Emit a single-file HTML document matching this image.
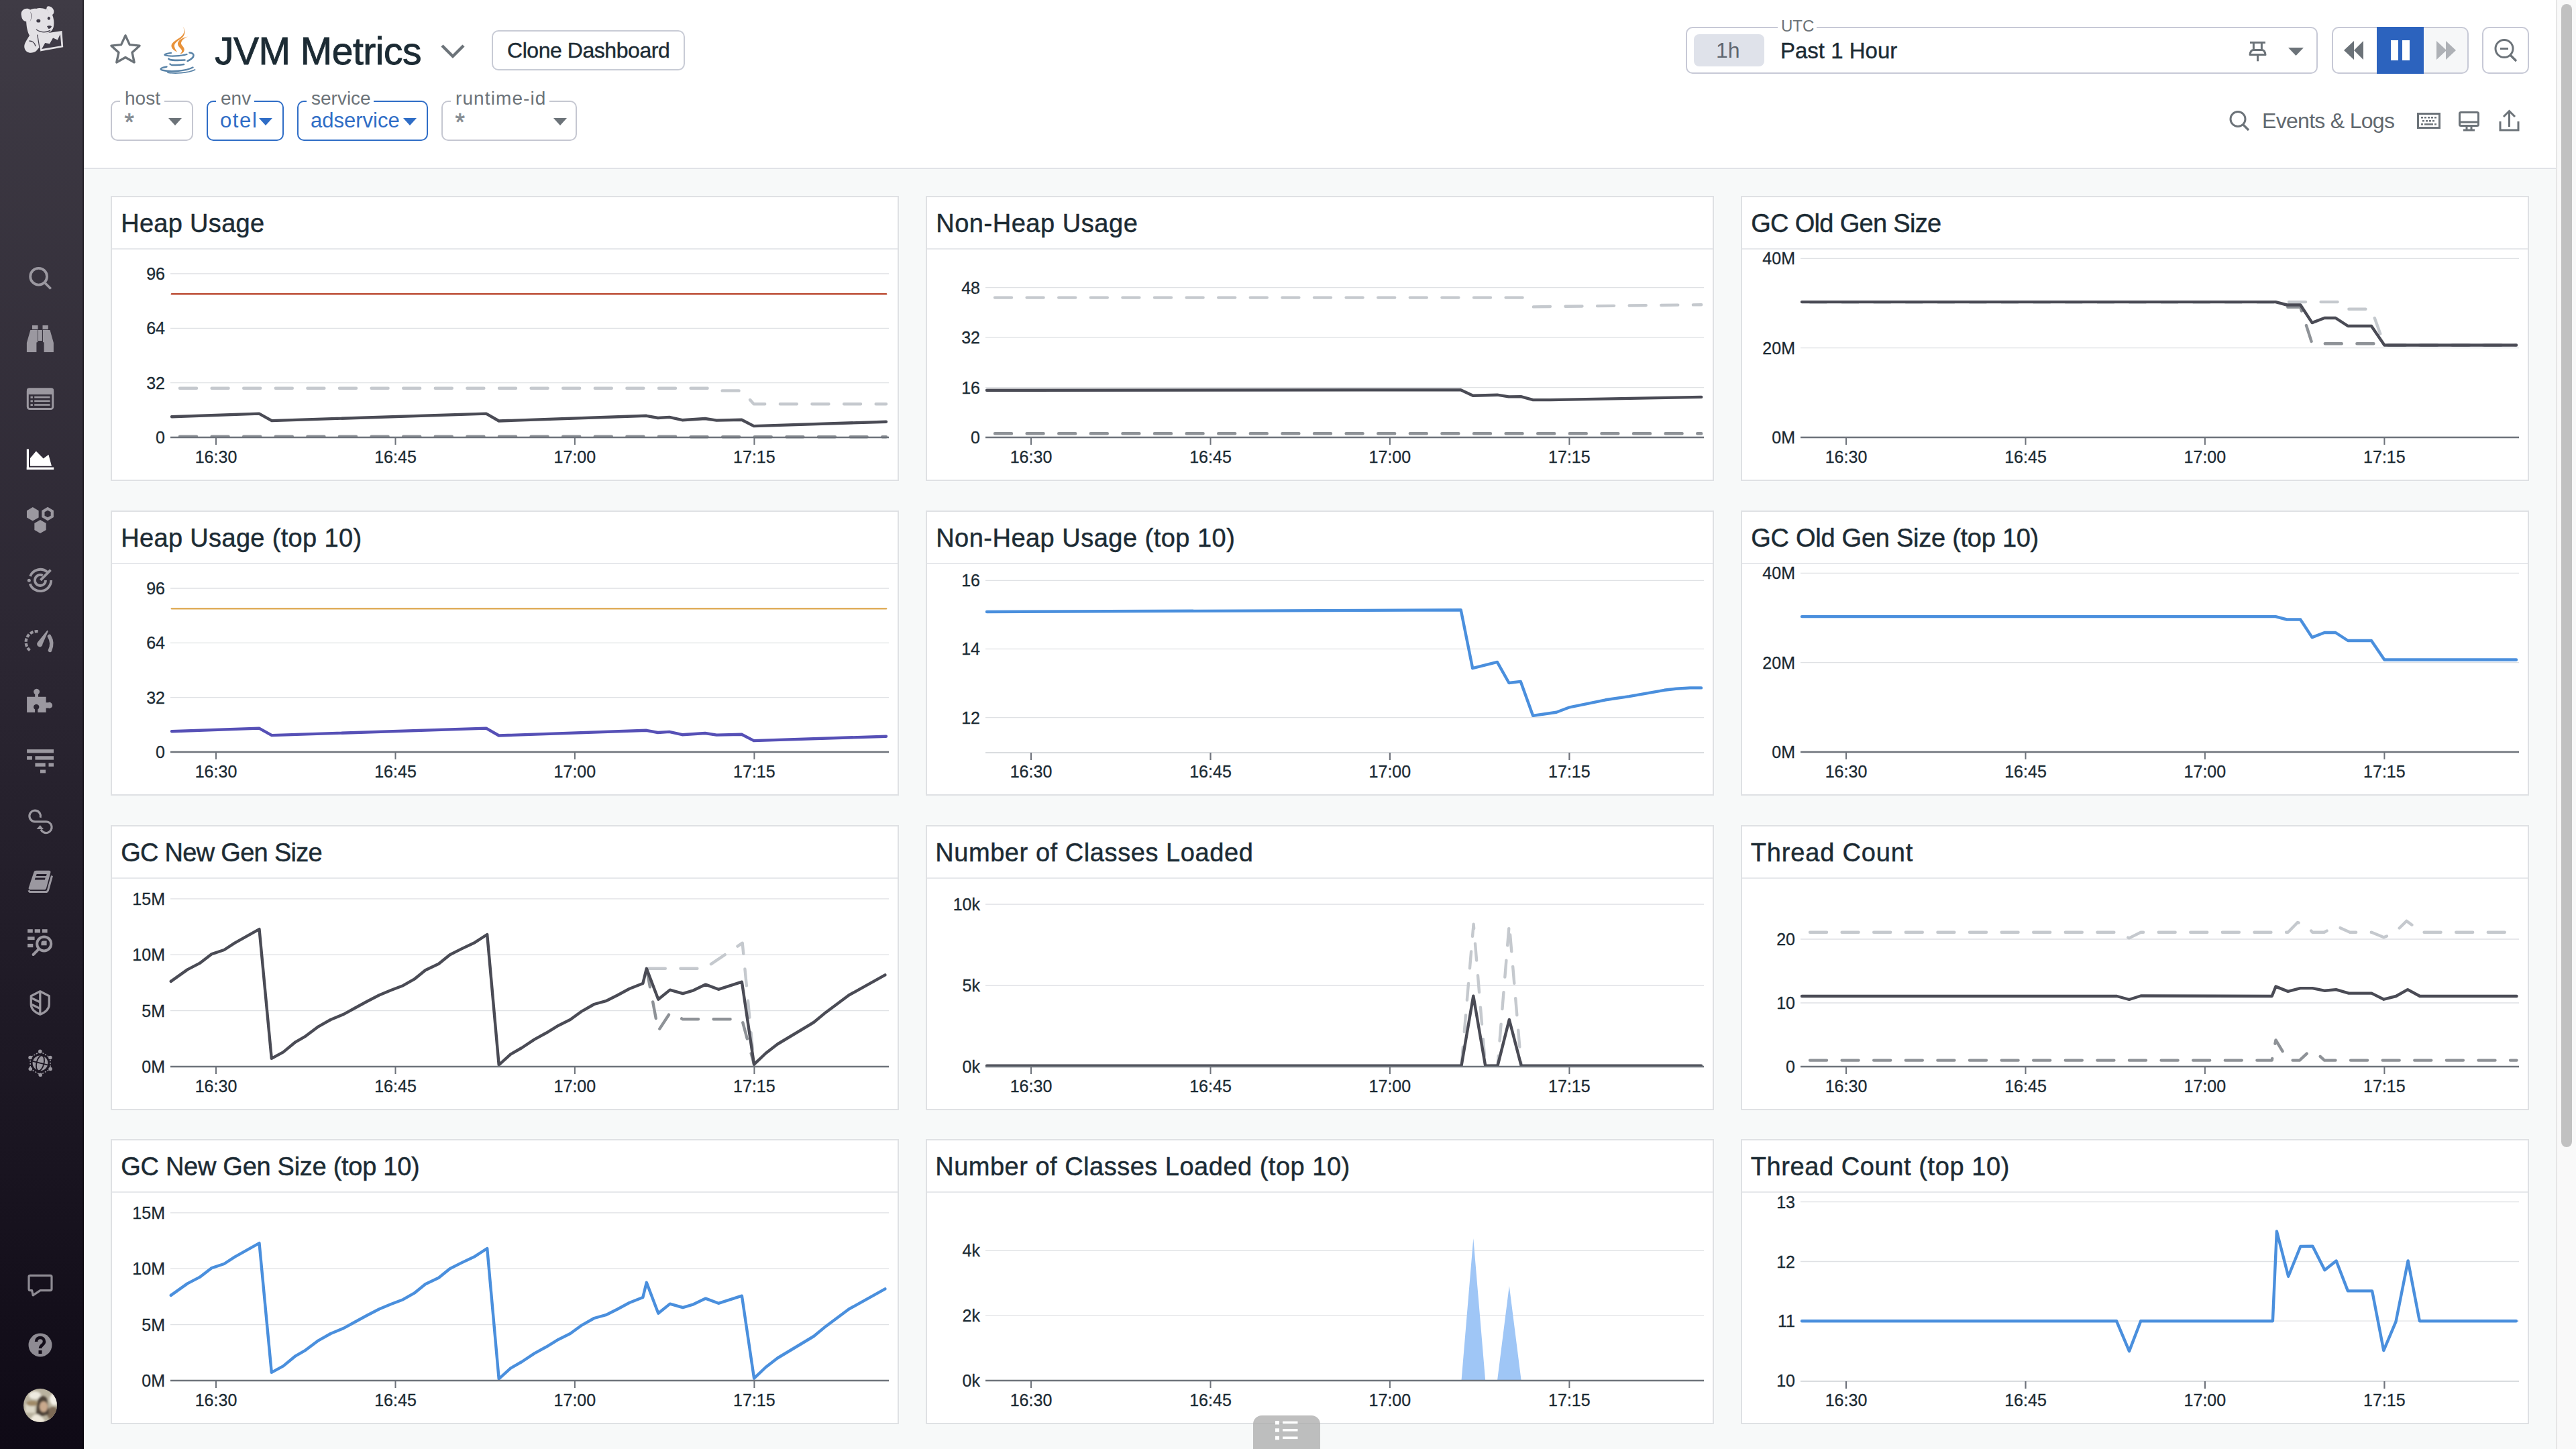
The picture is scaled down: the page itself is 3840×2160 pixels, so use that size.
<!DOCTYPE html><html><head><meta charset="utf-8"><style>
*{margin:0;padding:0;box-sizing:border-box}
html,body{width:3840px;height:2160px;overflow:hidden;background:#f7f9f9;font-family:"Liberation Sans", sans-serif}
#sb{position:absolute;left:0;top:0;width:125px;height:2160px;background:linear-gradient(#3f3b45,#2b2632 46%,#0f0a16);box-shadow:inset -2px 0 0 rgba(0,0,0,0.35), 2px 0 0 #fff}
#hd{position:absolute;left:125px;top:0;width:3685px;height:252px;background:#fff;border-bottom:2px solid #e1e3e7}
#scr{position:absolute;left:3810px;top:0;width:30px;height:2160px;background:#f9f9f9;border-left:2px solid #e6e6e6}
#thumb{position:absolute;left:6px;top:6px;width:16px;height:1704px;background:#c1c1c1;border-radius:8px}
.w{position:absolute;width:1175px;height:425px;background:#fff;border:2px solid #dfe1e4}
.wt{position:absolute;left:14px;top:12px;font-size:38px;color:#1c2b34;white-space:nowrap;line-height:54px;-webkit-text-stroke:0.45px #1c2b34}
.ws{position:absolute;left:0;top:76px;width:1171px;height:2px;background:#e6e8eb}
.cs{position:absolute;left:-2px;top:-2px}
.yl{font-size:25px;fill:#1c2b34;stroke:#1c2b34;stroke-width:0.3px;text-anchor:end;font-family:"Liberation Sans", sans-serif}
.xl{font-size:25px;fill:#1c2b34;stroke:#1c2b34;stroke-width:0.3px;text-anchor:middle;font-family:"Liberation Sans", sans-serif}
.abs{position:absolute;white-space:nowrap}
</style></head><body><div id="sb"><svg style="position:absolute;left:20px;top:0px" width="90" height="90" viewBox="0 0 90 90">
<g fill="#e3e1e5">
<path d="M12 24 C10 16 16 12 22 13 C26 14 28 18 27 23 C26 29 23 32 19 32 C15 32 12.5 28 12 24 Z"/>
<path d="M19 26 C19 17 26 12 34 13 C38 11 44 12 49 14 L50 10 C53 8 58 10 60 15 C61 18 60 21 58 22 C60 27 61 33 60 39 C59 45 55 49 48 50 L38 52 L39 70 L34 76 C30 79 24 80 20 77 C16 74 15 68 18 63 C20 59 22 56 24 53 C20 46 19 36 19 26 Z"/>
<path d="M35.7 51.6 L72.4 46 L74.2 70.2 L39.8 76.4 Z"/>
</g>
<g fill="#3f3b47">
<path d="M25 17 C28 21 28 28 24 33 C27 29 27 22 25 17 Z"/>
<ellipse cx="37.3" cy="31" rx="3" ry="2.6"/>
<ellipse cx="52.8" cy="27.3" rx="2" ry="2.5"/>
<path d="M50 39.2 C52 38 56.5 38 57 39.5 C56 42 54 43 52.5 43 Z"/>
<path d="M49.5 12 L53.5 20.5 C52 17 50.5 14.5 49.5 12 Z"/>
<path d="M42.2 73 L47.2 64 L54 65.2 L59 56.5 L65.8 59.6 L69.8 51 L71.4 68.3 Z"/>
</g>
<g fill="none" stroke="#3f3b47">
<path d="M34 44 C40 48 48 49 55 45.5" stroke-width="1.4"/>
<path d="M23.5 61 C28 61 32 64 33 69" stroke-width="1.4"/>
<path d="M35.7 51.6 L39.8 76.4" stroke-width="1.2"/>
</g></svg><svg style="position:absolute;left:35px;top:390px" width="50" height="50" viewBox="0 0 50 50" fill="#9b98a0" stroke="#9b98a0"><circle cx="22.6" cy="22.2" r="12.4" fill="none" stroke-width="3.8"/><line x1="31.5" y1="31.2" x2="40.8" y2="40.6" stroke-width="3.6"/></svg><svg style="position:absolute;left:35px;top:480px" width="50" height="50" viewBox="0 0 50 50" fill="#9b98a0" stroke="#9b98a0"><g stroke="none"><rect x="13" y="5" width="8.5" height="6"/><rect x="28.5" y="5" width="8.3" height="6"/><path d="M10.3 12 H21.1 V30 L19.4 30.6 V44.9 H4.9 V31 Z"/><rect x="21.9" y="12" width="6" height="16"/><path d="M29 12 H39.5 L44.9 31 V44.9 H30.6 V30.6 L29 30 Z"/></g></svg><svg style="position:absolute;left:35px;top:570px" width="50" height="50" viewBox="0 0 50 50" fill="#9b98a0" stroke="#9b98a0"><rect x="6.3" y="9.9" width="37.4" height="29.6" rx="3" fill="none" stroke-width="3"/><rect x="5" y="8.6" width="40" height="9.5" rx="3" stroke="none"/><g stroke="none"><rect x="10.5" y="20.8" width="3.4" height="2.8"/><rect x="16.2" y="20.8" width="23.3" height="2.6"/><rect x="10.5" y="26.5" width="3.4" height="2.8"/><rect x="16.2" y="26.5" width="23.3" height="2.6"/><rect x="10.5" y="32.2" width="3.4" height="2.8"/><rect x="16.2" y="32.2" width="23.3" height="2.6"/></g></svg><svg style="position:absolute;left:35px;top:660px" width="50" height="50" viewBox="0 0 50 50" fill="#ffffff" stroke="#ffffff"><g stroke="none"><rect x="4.8" y="9.5" width="3.2" height="30.5"/><rect x="4.8" y="36.6" width="40.4" height="3.4"/><path d="M10 22.9 L18.8 12.6 L29.7 23.4 L37.4 17.8 L42 34.8 H10 Z"/></g></svg><svg style="position:absolute;left:35px;top:750px" width="50" height="50" viewBox="0 0 50 50" fill="#9b98a0" stroke="#9b98a0"><g stroke="none"><path d="M13.80 6.10 L22.63 11.20 L22.63 21.40 L13.80 26.50 L4.97 21.40 L4.97 11.20 Z"/><path d="M36.10 5.80 L44.93 10.90 L44.93 21.10 L36.10 26.20 L27.27 21.10 L27.27 10.90 Z M36.10 10.70 L40.69 13.35 L40.69 18.65 L36.10 21.30 L31.51 18.65 L31.51 13.35 Z" fill-rule="evenodd"/><path d="M25.00 25.00 L33.66 30.00 L33.66 40.00 L25.00 45.00 L16.34 40.00 L16.34 30.00 Z"/></g></svg><svg style="position:absolute;left:35px;top:840px" width="50" height="50" viewBox="0 0 50 50" fill="#9b98a0" stroke="#9b98a0"><g fill="none" stroke-width="3.8"><path d="M9.98 18.93 A16.2 16.2 0 0 1 35.41 12.59"/><path d="M9.73 30.41 A16.2 16.2 0 0 0 41.2 25"/><path d="M33 25 A8 8 0 1 1 28.63 17.87"/><path d="M25.4 24.8 L40.5 9.7"/></g><circle cx="8.3" cy="25.2" r="2.5" stroke="none"/></svg><svg style="position:absolute;left:35px;top:930px" width="50" height="50" viewBox="0 0 50 50" fill="#9b98a0" stroke="#9b98a0"><path d="M9.5 39.5 A16 16 0 0 1 23 11.5" fill="none" stroke-width="4.2" stroke-dasharray="5 2.2"/><path d="M35.5 9.5 L36.8 11 L28.5 30 A4.2 4.2 0 1 1 21 27.5 Z" stroke="none"/><path d="M38.5 18.5 C42.5 25 42.5 33 39.5 39.5" fill="none" stroke-width="5.5" stroke-linecap="round"/></svg><svg style="position:absolute;left:35px;top:1020px" width="50" height="50" viewBox="0 0 50 50" fill="#9b98a0" stroke="#9b98a0"><g stroke="none"><path d="M5.1 18.8 H17.2 V15 A4.5 4.5 0 1 1 22 15 V18.8 H33.6 V27.2 H37 A4.5 4.5 0 1 1 37 35.6 H33.6 V42 H21.3 V37.5 A4.2 4.2 0 1 0 17.1 37.5 V42 H5.1 Z"/></g></svg><svg style="position:absolute;left:35px;top:1110px" width="50" height="50" viewBox="0 0 50 50" fill="#9b98a0" stroke="#9b98a0"><g stroke="none"><rect x="5.1" y="7.1" width="39.9" height="5.3"/><rect x="5.1" y="17.2" width="7.8" height="5.4"/><rect x="17.4" y="17.2" width="27.6" height="5.4"/><rect x="17.4" y="27.4" width="15.3" height="5.3"/><rect x="37.5" y="27.4" width="7.5" height="5.3"/><rect x="25" y="37.5" width="8" height="4.9"/></g></svg><svg style="position:absolute;left:35px;top:1200px" width="50" height="50" viewBox="0 0 50 50" fill="#9b98a0" stroke="#9b98a0"><path d="M25.15 18.8 A8.3 8.3 0 1 0 16.85 24.8 L33.1 24.8 A8.4 8.4 0 1 1 26 36.5" fill="none" stroke-width="3.2"/><path d="M19.5 36 L24.8 30 L30 36 Z" stroke="none"/></svg><svg style="position:absolute;left:35px;top:1290px" width="50" height="50" viewBox="0 0 50 50" fill="#9b98a0" stroke="#9b98a0"><path d="M19 7.7 H38 C40 7.7 41 9 40.3 11 L34 34 C33.5 35.5 32.5 36.3 31 36.3 H10 C8 36.3 7.2 35 7.8 33 L15.5 10 C16 8.5 17.3 7.7 19 7.7 Z" stroke="none"/><path d="M42.5 15.5 L36.5 37 C36 38.6 34.8 39.6 33 39.6 H11 C9.5 39.6 8.3 38.7 8 37.2" fill="none" stroke-width="3"/><g fill="#221c29" stroke="none"><path d="M19.6 13 H34.6 L33.9 16 H18.8 Z"/><path d="M17.6 18.4 H32.6 L31.9 21.4 H16.8 Z"/></g></svg><svg style="position:absolute;left:35px;top:1380px" width="50" height="50" viewBox="0 0 50 50" fill="#9b98a0" stroke="#9b98a0"><g stroke="none"><rect x="6.1" y="5.2" width="7.7" height="5.3"/><rect x="16.7" y="5.2" width="8.3" height="5.3"/><rect x="27.9" y="5.2" width="7.7" height="5.3"/><rect x="6.1" y="16.3" width="10.5" height="4.8"/><rect x="6.1" y="26.9" width="8.2" height="5.3"/><path d="M26.4 29.3 V26 A3.4 3.4 0 0 1 29.8 22.6 H34.6 V29.3 Z"/></g><circle cx="30.7" cy="26.9" r="10.5" fill="none" stroke-width="4"/><path d="M23 34.6 L14.6 43" fill="none" stroke-width="4" stroke-linecap="round"/></svg><svg style="position:absolute;left:35px;top:1472px" width="50" height="50" viewBox="0 0 50 50" fill="#9b98a0" stroke="#9b98a0"><path d="M24.8 5.8 L38.3 12.8 V25 C38.3 32.5 31.5 37.5 24.8 40.2 C18.1 37.5 11.3 32.5 11.3 25 V12.8 Z" fill="none" stroke-width="3.3" stroke-linejoin="round"/><path d="M24.8 6 V40 M11.5 15.5 L24.8 22 M11.5 25 L24.8 31.5" fill="none" stroke-width="3.3"/></svg><svg style="position:absolute;left:35px;top:1560px" width="50" height="50" viewBox="0 0 50 50" fill="#9b98a0" stroke="#9b98a0"><path d="M24.8 7.4 L39.9 16.5 L40.1 33.5 L25.2 42.2 L10.3 33.5 L10.1 16.5 Z" fill="none" stroke-width="1.5" stroke-dasharray="2.2 2"/><circle cx="25" cy="24.8" r="13.2" fill="#1c1622" stroke="none"/><circle cx="25" cy="24.8" r="11.4" stroke="none"/><g transform="rotate(14 25 24.8)" fill="none" stroke="#1c1622" stroke-width="1.8"><path d="M13 24.8 H37"/><ellipse cx="25" cy="24.8" rx="5.5" ry="11.6"/></g><g stroke="none"><circle cx="24.8" cy="7.4" r="2.8"/><circle cx="39.9" cy="16.5" r="2.8"/><circle cx="40.1" cy="33.5" r="2.8"/><circle cx="25.2" cy="42.2" r="2.8"/><circle cx="10.3" cy="33.5" r="2.8"/><circle cx="10.1" cy="16.5" r="2.8"/></g></svg><svg style="position:absolute;left:35px;top:1890px" width="50" height="50" viewBox="0 0 50 50" fill="#8e8b93" stroke="#8e8b93"><path d="M10 11.3 H40 C41.3 11.3 42 12 42 13.3 V31.6 C42 32.9 41.3 33.6 40 33.6 H25 L14.2 40.8 L12.6 33.6 H10 C8.7 33.6 8 32.9 8 31.6 V13.3 C8 12 8.7 11.3 10 11.3 Z" fill="none" stroke-width="3.2" stroke-linejoin="round"/></svg><svg style="position:absolute;left:35px;top:1980px" width="50" height="50" viewBox="0 0 50 50" fill="#8e8b93" stroke="#8e8b93"><circle cx="25" cy="25" r="17.5" stroke="none"/><path d="M19 20 C19 12 31 12 31 20 C31 25 25 25 25 30" fill="none" stroke="#120c18" stroke-width="4.5"/><rect x="22.5" y="33" width="5" height="5" fill="#120c18" stroke="none"/></svg><svg style="position:absolute;left:35px;top:2070px" width="50" height="50" viewBox="0 0 50 50"><defs><clipPath id="avc"><circle cx="25" cy="25" r="25"/></clipPath><filter id="avb" x="-20%" y="-20%" width="140%" height="140%"><feGaussianBlur stdDeviation="1.6"/></filter></defs>
<g clip-path="url(#avc)"><rect width="50" height="50" fill="#b9b29f"/><g filter="url(#avb)">
<ellipse cx="17" cy="10" rx="9" ry="6" fill="#eeeae0"/><ellipse cx="46" cy="16" rx="7" ry="9" fill="#f2efe6"/><rect x="3" y="22" width="14" height="14" fill="#ddd8c8"/>
<ellipse cx="13" cy="22" rx="9" ry="4" fill="#a08a68"/><ellipse cx="44" cy="37" rx="9" ry="10" fill="#7d6a56"/>
<path d="M22 16 C24 10 32 9 35 15 L38 38 L18 44 C20 34 19 25 22 16 Z" fill="#4d4238"/>
<ellipse cx="30" cy="27" rx="6" ry="8" fill="#c9a98d"/>
<path d="M10 50 C11 41 16 38 21 38 C26 40 30 44 33 50 Z" fill="#efe9dc"/>
</g></g></svg></div><div id="hd"></div>
<svg class="abs" style="left:158px;top:47px" width="59" height="55" viewBox="0 0 56 52"><path d="M27.5 5.5 L33.5 18.5 L47.5 20 L37 29.5 L40 43.5 L27.5 36.5 L15 43.5 L18 29.5 L7.5 20 L21.5 18.5 Z" fill="none" stroke="#6c7379" stroke-width="3.2" stroke-linejoin="round"/></svg>
<svg class="abs" style="left:230px;top:35px" width="70" height="80" viewBox="0 0 70 80">
<path d="M42.5 4.5 C46.5 11 44.5 17 37.5 21.5 C29.5 26.5 25 29.5 25.5 34 C26 37.5 29.5 40.5 34 42.5 C31.5 38.5 29.5 35.5 30 32.5 C30.5 29 35 26 40 22.5 C46 18 47.5 11 42.5 4.5 Z" fill="#e8923a"/>
<path d="M50 19.5 C42.5 21 36 24.5 35 29.5 C34.5 33.5 38.5 36 40.5 39 C42 41.5 40.5 44 37.5 46 C43.5 44.5 45.5 41 44.5 37.5 C43.5 34 39.5 32 40 29 C40.5 25.5 44 22 50 19.5 Z" fill="#e8923a"/>
<g fill="none" stroke="#5a84a8" stroke-linecap="round">
<path d="M25 43.8 C17 45 13 46.5 17 47.5 C24 49.5 40 48.5 48.5 46" stroke-width="2.2"/>
<path d="M52.5 43.5 C61 44 61 51 49.5 56" stroke-width="2.6"/>
<path d="M21.5 52.5 C21 54.5 30 55.5 45.5 54.5" stroke-width="2.6"/>
<path d="M23.5 60.5 C24 62.5 36 62.5 44 61" stroke-width="2.6"/>
<path d="M18.5 64.5 C7 66.5 8 69 14 70 C25 72.5 47 71 57.5 65.5" stroke-width="2.4"/>
<path d="M20 73 C30 75 50 74 60.5 69" stroke-width="1.8"/>
</g></svg>
<div class="abs" style="left:320px;top:36px;font-size:57px;line-height:80px;color:#1c2b34;letter-spacing:-0.5px;-webkit-text-stroke:0.9px #1c2b34">JVM Metrics</div>
<svg class="abs" style="left:652px;top:60px" width="46" height="34" viewBox="0 0 46 34"><path d="M7 8 L23 24 L39 8" fill="none" stroke="#6c7379" stroke-width="4.4"/></svg>
<div class="abs" style="left:733px;top:45px;width:288px;height:60px;border:2px solid #c8cbd5;border-radius:10px;background:#fff"></div>
<div class="abs" style="left:756px;top:55px;font-size:32px;line-height:40px;color:#1c2b34;letter-spacing:-0.45px;-webkit-text-stroke:0.4px #1c2b34">Clone Dashboard</div>
<div class="abs" style="left:165px;top:150px;width:123px;height:60px;border:2px solid #c5c7d1;border-radius:10px"></div><div class="abs" style="left:179px;top:135px;width:66px;height:24px;background:#fff"></div><div class="abs" style="left:186px;top:130px;font-size:28px;line-height:34px;color:#6c7379;letter-spacing:0px">host</div><div class="abs" style="left:185.5px;top:163.5px;font-size:37px;line-height:38px;color:#868c92;-webkit-text-stroke:0.7px #868c92">*</div><svg class="abs" style="left:251px;top:176px" width="20" height="12" viewBox="0 0 20 12"><path d="M0 0 H20 L10 11 Z" fill="#6c7379"/></svg><div class="abs" style="left:308px;top:150px;width:115px;height:60px;border:2px solid #2f6dc6;border-radius:10px"></div><div class="abs" style="left:322px;top:135px;width:57px;height:24px;background:#fff"></div><div class="abs" style="left:329px;top:130px;font-size:28px;line-height:34px;color:#6c7379;letter-spacing:0px">env</div><div class="abs" style="left:328px;top:163px;font-size:31px;line-height:34px;color:#2f6dc6;letter-spacing:1.6px">otel</div><svg class="abs" style="left:386px;top:176px" width="20" height="12" viewBox="0 0 20 12"><path d="M0 0 H20 L10 11 Z" fill="#2f6dc6"/></svg><div class="abs" style="left:443px;top:150px;width:195px;height:60px;border:2px solid #2f6dc6;border-radius:10px"></div><div class="abs" style="left:457px;top:135px;width:100px;height:24px;background:#fff"></div><div class="abs" style="left:464px;top:130px;font-size:28px;line-height:34px;color:#6c7379;letter-spacing:0px">service</div><div class="abs" style="left:463px;top:163px;font-size:31px;line-height:34px;color:#2f6dc6;letter-spacing:0px">adservice</div><svg class="abs" style="left:601px;top:176px" width="20" height="12" viewBox="0 0 20 12"><path d="M0 0 H20 L10 11 Z" fill="#2f6dc6"/></svg><div class="abs" style="left:658px;top:150px;width:202px;height:60px;border:2px solid #c5c7d1;border-radius:10px"></div><div class="abs" style="left:672px;top:135px;width:147px;height:24px;background:#fff"></div><div class="abs" style="left:679px;top:130px;font-size:28px;line-height:34px;color:#6c7379;letter-spacing:1.1px">runtime-id</div><div class="abs" style="left:678.5px;top:163.5px;font-size:37px;line-height:38px;color:#868c92;-webkit-text-stroke:0.7px #868c92">*</div><svg class="abs" style="left:825px;top:176px" width="20" height="12" viewBox="0 0 20 12"><path d="M0 0 H20 L10 11 Z" fill="#6c7379"/></svg>
<div class="abs" style="left:2513px;top:40px;width:942px;height:70px;border:2px solid #c7c9d6;border-radius:10px;background:#fff"></div>
<div class="abs" style="left:2650px;top:32px;width:58px;height:12px;background:#fff"></div>
<div class="abs" style="left:2655px;top:24px;font-size:24px;line-height:30px;color:#6c7379">UTC</div>
<div class="abs" style="left:2525px;top:51px;width:105px;height:48px;border-radius:8px;background:#dfe2ea"></div>
<div class="abs" style="left:2558px;top:56px;font-size:32px;line-height:38px;color:#5f6670">1h</div>
<div class="abs" style="left:2654px;top:57px;font-size:33px;line-height:38px;color:#1c2b34;-webkit-text-stroke:0.4px #1c2b34">Past 1 Hour</div>
<svg class="abs" style="left:3350px;top:60px" width="32" height="34" viewBox="0 0 32 34"><g fill="none" stroke="#6c7379" stroke-width="3"><path d="M4 3.4 H27"/><path d="M9.4 3.4 V14.6 M21.4 3.4 V14.6"/><path d="M9.4 14.6 H21.4 C24.5 14.6 26.5 17 27 21.6 H4 C4.5 17 6.5 14.6 9.4 14.6 Z" stroke-linejoin="round"/><path d="M15.5 21.6 V31.3"/></g></svg>
<svg class="abs" style="left:3411px;top:71px" width="23" height="13" viewBox="0 0 23 13"><path d="M0 0 H23 L11.5 12 Z" fill="#6c7379"/></svg>
<div class="abs" style="left:3476px;top:40px;width:68px;height:70px;border:2px solid #c7c9d6;border-right:none;border-radius:10px 0 0 10px;background:#fff"></div><div class="abs" style="left:3613px;top:40px;width:67px;height:70px;border:2px solid #c7c9d6;border-left:none;border-radius:0 10px 10px 0;background:#f6f7f8"></div><div class="abs" style="left:3543px;top:40px;width:70px;height:70px;background:#2c63be"></div>
<svg class="abs" style="left:3492px;top:59px" width="34" height="32" viewBox="0 0 34 32"><path d="M2 16 L17 2 V30 Z M17 16 L31 2 V30 Z" fill="#6c7379"/></svg>
<svg class="abs" style="left:3563px;top:59px" width="30" height="32" viewBox="0 0 30 32"><rect x="1" y="1" width="11" height="30" fill="#fff"/><rect x="18" y="1" width="11" height="30" fill="#fff"/></svg>
<svg class="abs" style="left:3630px;top:59px" width="34" height="32" viewBox="0 0 34 32"><path d="M2 2 L17 16 L2 30 Z M16 2 L31 16 L16 30 Z" fill="#aeb1b6"/></svg>
<div class="abs" style="left:3700px;top:40px;width:70px;height:70px;border:2px solid #c7c9d6;border-radius:10px;background:#fff"></div>
<svg class="abs" style="left:3714px;top:54px" width="42" height="42" viewBox="0 0 42 42"><circle cx="19" cy="18.5" r="13" fill="none" stroke="#6c7379" stroke-width="3"/><path d="M13 18.5 H25" stroke="#6c7379" stroke-width="3"/><path d="M28 28 L37 37" stroke="#6c7379" stroke-width="3.4"/></svg>
<svg class="abs" style="left:3320px;top:162px" width="38" height="38" viewBox="0 0 38 38"><circle cx="16" cy="15.5" r="11" fill="none" stroke="#6c7379" stroke-width="3"/><path d="M24 24 L32 32" stroke="#6c7379" stroke-width="3.2"/></svg>
<div class="abs" style="left:3372px;top:160px;font-size:32px;line-height:40px;color:#62696f;letter-spacing:-0.7px">Events &amp; Logs</div>
<svg class="abs" style="left:3602px;top:167px" width="38" height="28" viewBox="0 0 38 28"><rect x="2.5" y="2.5" width="32" height="21" fill="none" stroke="#6c7379" stroke-width="3"/><g fill="#6c7379"><rect x="7" y="7" width="3" height="2.5"/><rect x="12" y="7" width="3" height="2.5"/><rect x="17" y="7" width="3" height="2.5"/><rect x="22" y="7" width="3" height="2.5"/><rect x="27" y="7" width="3" height="2.5"/><rect x="9" y="12" width="3" height="2.5"/><rect x="14" y="12" width="3" height="2.5"/><rect x="19" y="12" width="3" height="2.5"/><rect x="24" y="12" width="3" height="2.5"/><rect x="7" y="17" width="3" height="2.5"/><rect x="12" y="17" width="13" height="2.5"/><rect x="27" y="17" width="3" height="2.5"/></g></svg>
<svg class="abs" style="left:3664px;top:165px" width="34" height="32" viewBox="0 0 34 32"><rect x="2.5" y="2.5" width="28" height="20" rx="2" fill="none" stroke="#6c7379" stroke-width="3"/><path d="M2.5 17 H30.5" stroke="#6c7379" stroke-width="3"/><path d="M13 22 V28 M20 22 V28 M8 29 H25" stroke="#6c7379" stroke-width="3"/></svg>
<svg class="abs" style="left:3724px;top:162px" width="34" height="36" viewBox="0 0 34 36"><path d="M3 19 V32 H30 V19" fill="none" stroke="#6c7379" stroke-width="3"/><path d="M16.5 27 V4 M8 12 L16.5 3.5 L25 12" fill="none" stroke="#6c7379" stroke-width="3"/></svg>
<div id="scr"><div id="thumb"></div></div><div class="w" style="left:165px;top:292px"><div class="wt" style="left:13.2px;letter-spacing:0.3px">Heap Usage</div><div class="ws"></div><svg class="cs" width="1175" height="425" viewBox="0 0 1175 425"><line x1="89" x2="1160" y1="116" y2="116" stroke="#dfe1e4" stroke-width="1.3"/><text x="81" y="125" class="yl">96</text><line x1="89" x2="1160" y1="197.33" y2="197.33" stroke="#dfe1e4" stroke-width="1.3"/><text x="81" y="206.33" class="yl">64</text><line x1="89" x2="1160" y1="278.67" y2="278.67" stroke="#dfe1e4" stroke-width="1.3"/><text x="81" y="287.67" class="yl">32</text><text x="81" y="369" class="yl">0</text><polyline points="91.0,146.3 1156.0,146.3" fill="none" stroke="#bd4f38" stroke-width="2.6" stroke-linejoin="round" stroke-linecap="round"/><polyline points="91.0,286.8 893.0,286.8 903.0,290.4 941.0,290.4 958.7,310.3 1156.0,310.3" fill="none" stroke="#c5c9ce" stroke-width="4.4" stroke-linejoin="round" stroke-linecap="round" stroke-dasharray="25 22.6" stroke-dashoffset="-12"/><polyline points="91.0,358.6 852.0,358.6 865.0,359.2 1156.0,359.2" fill="none" stroke="#8e9297" stroke-width="4.4" stroke-linejoin="round" stroke-linecap="round" stroke-dasharray="25 22.6" stroke-dashoffset="-12"/><polyline points="91.0,329.2 221.3,324.6 240.1,335.1 559.8,324.6 578.7,335.5 798.6,327.8 815.7,331.0 832.8,329.9 852.0,334.2 886.1,332.0 903.2,334.6 940.6,333.8 958.7,343.1 1156.0,336.7" fill="none" stroke="#4a4b55" stroke-width="4.4" stroke-linejoin="round" stroke-linecap="round"/><line x1="89" x2="1160" y1="360" y2="360" stroke="#6e737b" stroke-width="2.6"/><line x1="157.0" x2="157.0" y1="360" y2="371" stroke="#6e737b" stroke-width="2"/><text x="157.0" y="398" class="xl">16:30</text><line x1="424.5" x2="424.5" y1="360" y2="371" stroke="#6e737b" stroke-width="2"/><text x="424.5" y="398" class="xl">16:45</text><line x1="691.9" x2="691.9" y1="360" y2="371" stroke="#6e737b" stroke-width="2"/><text x="691.9" y="398" class="xl">17:00</text><line x1="959.4" x2="959.4" y1="360" y2="371" stroke="#6e737b" stroke-width="2"/><text x="959.4" y="398" class="xl">17:15</text></svg></div><div class="w" style="left:1380px;top:292px"><div class="wt" style="left:13.2px;letter-spacing:0.54px">Non-Heap Usage</div><div class="ws"></div><svg class="cs" width="1175" height="425" viewBox="0 0 1175 425"><line x1="89" x2="1160" y1="136.7" y2="136.7" stroke="#dfe1e4" stroke-width="1.3"/><text x="81" y="145.7" class="yl">48</text><line x1="89" x2="1160" y1="211.1" y2="211.1" stroke="#dfe1e4" stroke-width="1.3"/><text x="81" y="220.1" class="yl">32</text><line x1="89" x2="1160" y1="285.6" y2="285.6" stroke="#dfe1e4" stroke-width="1.3"/><text x="81" y="294.6" class="yl">16</text><text x="81" y="369" class="yl">0</text><polyline points="91.0,151.6 890.0,151.6 902.0,165.4 1156.2,162.2" fill="none" stroke="#c5c9ce" stroke-width="4.4" stroke-linejoin="round" stroke-linecap="round" stroke-dasharray="25 22.6" stroke-dashoffset="-12"/><polyline points="91.0,354.2 1156.2,354.2" fill="none" stroke="#8e9297" stroke-width="4.4" stroke-linejoin="round" stroke-linecap="round" stroke-dasharray="25 22.6" stroke-dashoffset="-12"/><polyline points="91.0,289.8 797.5,289.2 815.7,297.7 852.0,296.7 869.0,299.4 887.2,299.2 905.3,304.1 931.0,304.1 1156.2,299.9" fill="none" stroke="#4a4b55" stroke-width="4.4" stroke-linejoin="round" stroke-linecap="round"/><line x1="89" x2="1160" y1="360" y2="360" stroke="#6e737b" stroke-width="2.6"/><line x1="157.0" x2="157.0" y1="360" y2="371" stroke="#6e737b" stroke-width="2"/><text x="157.0" y="398" class="xl">16:30</text><line x1="424.5" x2="424.5" y1="360" y2="371" stroke="#6e737b" stroke-width="2"/><text x="424.5" y="398" class="xl">16:45</text><line x1="691.9" x2="691.9" y1="360" y2="371" stroke="#6e737b" stroke-width="2"/><text x="691.9" y="398" class="xl">17:00</text><line x1="959.4" x2="959.4" y1="360" y2="371" stroke="#6e737b" stroke-width="2"/><text x="959.4" y="398" class="xl">17:15</text></svg></div><div class="w" style="left:2595px;top:292px"><div class="wt" style="left:13.2px;letter-spacing:-0.68px">GC Old Gen Size</div><div class="ws"></div><svg class="cs" width="1175" height="425" viewBox="0 0 1175 425"><line x1="89" x2="1160" y1="93.3" y2="93.3" stroke="#dfe1e4" stroke-width="1.3"/><text x="81" y="102.3" class="yl">40M</text><line x1="89" x2="1160" y1="226.7" y2="226.7" stroke="#dfe1e4" stroke-width="1.3"/><text x="81" y="235.7" class="yl">20M</text><text x="81" y="369" class="yl">0M</text><polyline points="91.0,158.1 895.0,158.1 902.0,168.8 940.0,168.8 959.4,222.5 1156.0,222.5" fill="none" stroke="#c5c9ce" stroke-width="4.4" stroke-linejoin="round" stroke-linecap="round" stroke-dasharray="25 22.6" stroke-dashoffset="-12"/><polyline points="91.0,158.1 797.3,158.1 813.8,165.8 834.2,165.8 851.6,220.2 944.0,220.2 959.4,222.5 1156.0,222.5" fill="none" stroke="#8e9297" stroke-width="4.4" stroke-linejoin="round" stroke-linecap="round" stroke-dasharray="25 22.6" stroke-dashoffset="-12"/><polyline points="91.0,158.1 797.3,158.1 813.8,162.5 834.2,162.5 851.6,189.1 870.1,182.0 886.6,182.0 905.0,194.0 940.0,194.0 959.4,222.5 1156.0,222.5" fill="none" stroke="#4a4b55" stroke-width="4.4" stroke-linejoin="round" stroke-linecap="round"/><line x1="89" x2="1160" y1="360" y2="360" stroke="#6e737b" stroke-width="2.6"/><line x1="157.0" x2="157.0" y1="360" y2="371" stroke="#6e737b" stroke-width="2"/><text x="157.0" y="398" class="xl">16:30</text><line x1="424.5" x2="424.5" y1="360" y2="371" stroke="#6e737b" stroke-width="2"/><text x="424.5" y="398" class="xl">16:45</text><line x1="691.9" x2="691.9" y1="360" y2="371" stroke="#6e737b" stroke-width="2"/><text x="691.9" y="398" class="xl">17:00</text><line x1="959.4" x2="959.4" y1="360" y2="371" stroke="#6e737b" stroke-width="2"/><text x="959.4" y="398" class="xl">17:15</text></svg></div><div class="w" style="left:165px;top:761px"><div class="wt" style="left:13.2px;letter-spacing:0.34px">Heap Usage (top 10)</div><div class="ws"></div><svg class="cs" width="1175" height="425" viewBox="0 0 1175 425"><line x1="89" x2="1160" y1="116" y2="116" stroke="#dfe1e4" stroke-width="1.3"/><text x="81" y="125" class="yl">96</text><line x1="89" x2="1160" y1="197.33" y2="197.33" stroke="#dfe1e4" stroke-width="1.3"/><text x="81" y="206.33" class="yl">64</text><line x1="89" x2="1160" y1="278.67" y2="278.67" stroke="#dfe1e4" stroke-width="1.3"/><text x="81" y="287.67" class="yl">32</text><text x="81" y="369" class="yl">0</text><polyline points="91.0,146.3 1156.0,146.3" fill="none" stroke="#e0ad5a" stroke-width="2.6" stroke-linejoin="round" stroke-linecap="round"/><polyline points="91.0,329.2 221.3,324.6 240.1,335.1 559.8,324.6 578.7,335.5 798.6,327.8 815.7,331.0 832.8,329.9 852.0,334.2 886.1,332.0 903.2,334.6 940.6,333.8 958.7,343.1 1156.0,336.7" fill="none" stroke="#5650b6" stroke-width="4.4" stroke-linejoin="round" stroke-linecap="round"/><line x1="89" x2="1160" y1="360" y2="360" stroke="#6e737b" stroke-width="2.6"/><line x1="157.0" x2="157.0" y1="360" y2="371" stroke="#6e737b" stroke-width="2"/><text x="157.0" y="398" class="xl">16:30</text><line x1="424.5" x2="424.5" y1="360" y2="371" stroke="#6e737b" stroke-width="2"/><text x="424.5" y="398" class="xl">16:45</text><line x1="691.9" x2="691.9" y1="360" y2="371" stroke="#6e737b" stroke-width="2"/><text x="691.9" y="398" class="xl">17:00</text><line x1="959.4" x2="959.4" y1="360" y2="371" stroke="#6e737b" stroke-width="2"/><text x="959.4" y="398" class="xl">17:15</text></svg></div><div class="w" style="left:1380px;top:761px"><div class="wt" style="left:13.2px;letter-spacing:0.48px">Non-Heap Usage (top 10)</div><div class="ws"></div><svg class="cs" width="1175" height="425" viewBox="0 0 1175 425"><line x1="89" x2="1160" y1="104.3" y2="104.3" stroke="#dfe1e4" stroke-width="1.3"/><text x="81" y="113.3" class="yl">16</text><line x1="89" x2="1160" y1="206.3" y2="206.3" stroke="#dfe1e4" stroke-width="1.3"/><text x="81" y="215.3" class="yl">14</text><line x1="89" x2="1160" y1="308.6" y2="308.6" stroke="#dfe1e4" stroke-width="1.3"/><text x="81" y="317.6" class="yl">12</text><polyline points="91.0,151.0 797.7,148.3 815.2,235.2 851.9,225.9 869.4,257.0 886.8,254.9 905.2,305.9 940.1,300.7 958.5,293.7 1013.5,282.3 1048.4,277.1 1100.9,267.8 1118.3,265.8 1139.3,264.4 1156.0,264.4" fill="none" stroke="#4a8fdd" stroke-width="4.4" stroke-linejoin="round" stroke-linecap="round"/><line x1="89" x2="1160" y1="361" y2="361" stroke="#ccd0d4" stroke-width="1.5"/><line x1="157.0" x2="157.0" y1="361" y2="372" stroke="#6f737c" stroke-width="2.2"/><text x="157.0" y="398" class="xl">16:30</text><line x1="424.5" x2="424.5" y1="361" y2="372" stroke="#6f737c" stroke-width="2.2"/><text x="424.5" y="398" class="xl">16:45</text><line x1="691.9" x2="691.9" y1="361" y2="372" stroke="#6f737c" stroke-width="2.2"/><text x="691.9" y="398" class="xl">17:00</text><line x1="959.4" x2="959.4" y1="361" y2="372" stroke="#6f737c" stroke-width="2.2"/><text x="959.4" y="398" class="xl">17:15</text></svg></div><div class="w" style="left:2595px;top:761px"><div class="wt" style="left:13.2px;letter-spacing:-0.26px">GC Old Gen Size (top 10)</div><div class="ws"></div><svg class="cs" width="1175" height="425" viewBox="0 0 1175 425"><line x1="89" x2="1160" y1="93.3" y2="93.3" stroke="#dfe1e4" stroke-width="1.3"/><text x="81" y="102.3" class="yl">40M</text><line x1="89" x2="1160" y1="226.7" y2="226.7" stroke="#dfe1e4" stroke-width="1.3"/><text x="81" y="235.7" class="yl">20M</text><text x="81" y="369" class="yl">0M</text><polyline points="91.0,158.1 797.3,158.1 813.8,162.5 834.2,162.5 851.6,189.1 870.1,182.0 886.6,182.0 905.0,194.0 940.0,194.0 959.4,222.5 1156.0,222.5" fill="none" stroke="#4a8fdd" stroke-width="4.4" stroke-linejoin="round" stroke-linecap="round"/><line x1="89" x2="1160" y1="360" y2="360" stroke="#6e737b" stroke-width="2.6"/><line x1="157.0" x2="157.0" y1="360" y2="371" stroke="#6e737b" stroke-width="2"/><text x="157.0" y="398" class="xl">16:30</text><line x1="424.5" x2="424.5" y1="360" y2="371" stroke="#6e737b" stroke-width="2"/><text x="424.5" y="398" class="xl">16:45</text><line x1="691.9" x2="691.9" y1="360" y2="371" stroke="#6e737b" stroke-width="2"/><text x="691.9" y="398" class="xl">17:00</text><line x1="959.4" x2="959.4" y1="360" y2="371" stroke="#6e737b" stroke-width="2"/><text x="959.4" y="398" class="xl">17:15</text></svg></div><div class="w" style="left:165px;top:1230px"><div class="wt" style="left:13.2px;letter-spacing:-0.71px">GC New Gen Size</div><div class="ws"></div><svg class="cs" width="1175" height="425" viewBox="0 0 1175 425"><line x1="89" x2="1160" y1="109.8" y2="109.8" stroke="#dfe1e4" stroke-width="1.3"/><text x="81" y="118.8" class="yl">15M</text><line x1="89" x2="1160" y1="193.2" y2="193.2" stroke="#dfe1e4" stroke-width="1.3"/><text x="81" y="202.2" class="yl">10M</text><line x1="89" x2="1160" y1="276.6" y2="276.6" stroke="#dfe1e4" stroke-width="1.3"/><text x="81" y="285.6" class="yl">5M</text><text x="81" y="369" class="yl">0M</text><polyline points="798.8,213.8 885.0,213.8 941.7,175.7 959.1,356.7" fill="none" stroke="#c5c9ce" stroke-width="4.4" stroke-linejoin="round" stroke-linecap="round" stroke-dasharray="25 22.6" stroke-dashoffset="-3"/><polyline points="798.8,213.8 816.3,306.7 833.7,280.0 852.8,289.2 940.9,289.2 959.1,356.7" fill="none" stroke="#8e9297" stroke-width="4.4" stroke-linejoin="round" stroke-linecap="round" stroke-dasharray="25 22.6" stroke-dashoffset="-3"/><polyline points="89.8,232.9 114.4,215.4 132.6,205.9 150.1,192.4 169.1,186.0 185.0,175.7 221.5,155.1 239.8,347.9 257.2,338.4 275.5,323.3 290.6,314.6 309.6,300.3 327.9,290.0 346.9,282.1 364.4,272.5 381.8,263.0 400.1,253.5 418.0,246.0 435.8,239.2 452.5,229.7 469.1,216.2 489.0,206.7 505.6,193.2 523.1,184.4 542.9,174.9 561.2,163.0 578.7,357.5 596.1,341.6 612.8,332.0 631.8,319.4 649.3,309.8 667.5,298.7 685.0,290.0 702.5,277.3 720.7,267.0 738.2,262.2 755.6,253.5 773.1,244.0 793.3,236.0 798.8,213.8 816.3,259.8 833.7,245.6 852.8,251.1 868.7,246.3 886.9,237.6 906.0,244.8 940.9,233.7 959.1,356.7 976.6,340.0 994.0,326.5 1048.0,294.0 1066.3,278.9 1100.4,253.5 1154.4,223.3" fill="none" stroke="#4a4b55" stroke-width="4.4" stroke-linejoin="round" stroke-linecap="round"/><line x1="89" x2="1160" y1="360" y2="360" stroke="#6e737b" stroke-width="2.6"/><line x1="157.0" x2="157.0" y1="360" y2="371" stroke="#6e737b" stroke-width="2"/><text x="157.0" y="398" class="xl">16:30</text><line x1="424.5" x2="424.5" y1="360" y2="371" stroke="#6e737b" stroke-width="2"/><text x="424.5" y="398" class="xl">16:45</text><line x1="691.9" x2="691.9" y1="360" y2="371" stroke="#6e737b" stroke-width="2"/><text x="691.9" y="398" class="xl">17:00</text><line x1="959.4" x2="959.4" y1="360" y2="371" stroke="#6e737b" stroke-width="2"/><text x="959.4" y="398" class="xl">17:15</text></svg></div><div class="w" style="left:1380px;top:1230px"><div class="wt" style="left:12.2px;letter-spacing:0.57px">Number of Classes Loaded</div><div class="ws"></div><svg class="cs" width="1175" height="425" viewBox="0 0 1175 425"><line x1="89" x2="1160" y1="118" y2="118" stroke="#dfe1e4" stroke-width="1.3"/><text x="81" y="127" class="yl">10k</text><line x1="89" x2="1160" y1="239" y2="239" stroke="#dfe1e4" stroke-width="1.3"/><text x="81" y="248" class="yl">5k</text><text x="81" y="369" class="yl">0k</text><polyline points="798.5,358.6 816.6,147.6 834.2,358.6 852.5,358.6 869.8,147.6 887.7,358.6" fill="none" stroke="#c5c9ce" stroke-width="4.4" stroke-linejoin="round" stroke-linecap="round" stroke-dasharray="25 22.6" stroke-dashoffset="-3"/><polyline points="91.0,358.6 798.5,358.6 816.3,254.6 834.2,358.6 852.5,358.6 869.8,290.0 887.7,358.6 1156.0,358.6" fill="none" stroke="#4a4b55" stroke-width="4.4" stroke-linejoin="round" stroke-linecap="round"/><line x1="89" x2="1160" y1="360" y2="360" stroke="#6e737b" stroke-width="2.6"/><line x1="157.0" x2="157.0" y1="360" y2="371" stroke="#6e737b" stroke-width="2"/><text x="157.0" y="398" class="xl">16:30</text><line x1="424.5" x2="424.5" y1="360" y2="371" stroke="#6e737b" stroke-width="2"/><text x="424.5" y="398" class="xl">16:45</text><line x1="691.9" x2="691.9" y1="360" y2="371" stroke="#6e737b" stroke-width="2"/><text x="691.9" y="398" class="xl">17:00</text><line x1="959.4" x2="959.4" y1="360" y2="371" stroke="#6e737b" stroke-width="2"/><text x="959.4" y="398" class="xl">17:15</text></svg></div><div class="w" style="left:2595px;top:1230px"><div class="wt" style="left:12.7px;letter-spacing:0.84px">Thread Count</div><div class="ws"></div><svg class="cs" width="1175" height="425" viewBox="0 0 1175 425"><line x1="89" x2="1160" y1="170" y2="170" stroke="#dfe1e4" stroke-width="1.3"/><text x="81" y="179" class="yl">20</text><line x1="89" x2="1160" y1="265" y2="265" stroke="#dfe1e4" stroke-width="1.3"/><text x="81" y="274" class="yl">10</text><text x="81" y="369" class="yl">0</text><polyline points="91.0,159.8 560.7,159.8 578.9,168.4 596.3,159.8 815.7,159.8 830.0,144.9 845.0,151.5 852.2,159.8 869.6,159.8 887.3,150.2 908.0,159.8 940.3,159.8 958.5,167.3 974.3,160.6 992.5,142.9 1007.4,154.0 1012.3,159.8 1156.5,159.8" fill="none" stroke="#c5c9ce" stroke-width="4.4" stroke-linejoin="round" stroke-linecap="round" stroke-dasharray="25 22.6" stroke-dashoffset="-12"/><polyline points="91.0,350.6 791.7,350.6 797.5,320.4 815.7,350.6 833.0,350.6 845.0,339.5 858.0,339.5 870.0,350.6 1156.5,350.6" fill="none" stroke="#8e9297" stroke-width="4.4" stroke-linejoin="round" stroke-linecap="round" stroke-dasharray="25 22.6" stroke-dashoffset="-12"/><polyline points="91.0,255.0 560.7,255.0 578.9,260.0 596.3,254.5 791.7,255.0 797.5,240.6 815.7,247.9 834.0,243.1 852.2,243.1 870.7,246.8 887.3,245.1 906.3,250.6 940.3,250.6 958.5,259.7 976.7,255.0 994.1,245.1 1012.3,255.0 1156.5,255.0" fill="none" stroke="#4a4b55" stroke-width="4.4" stroke-linejoin="round" stroke-linecap="round"/><line x1="89" x2="1160" y1="360" y2="360" stroke="#6e737b" stroke-width="2.6"/><line x1="157.0" x2="157.0" y1="360" y2="371" stroke="#6e737b" stroke-width="2"/><text x="157.0" y="398" class="xl">16:30</text><line x1="424.5" x2="424.5" y1="360" y2="371" stroke="#6e737b" stroke-width="2"/><text x="424.5" y="398" class="xl">16:45</text><line x1="691.9" x2="691.9" y1="360" y2="371" stroke="#6e737b" stroke-width="2"/><text x="691.9" y="398" class="xl">17:00</text><line x1="959.4" x2="959.4" y1="360" y2="371" stroke="#6e737b" stroke-width="2"/><text x="959.4" y="398" class="xl">17:15</text></svg></div><div class="w" style="left:165px;top:1698px"><div class="wt" style="left:13.2px;letter-spacing:-0.28px">GC New Gen Size (top 10)</div><div class="ws"></div><svg class="cs" width="1175" height="425" viewBox="0 0 1175 425"><line x1="89" x2="1160" y1="109.8" y2="109.8" stroke="#dfe1e4" stroke-width="1.3"/><text x="81" y="118.8" class="yl">15M</text><line x1="89" x2="1160" y1="193.2" y2="193.2" stroke="#dfe1e4" stroke-width="1.3"/><text x="81" y="202.2" class="yl">10M</text><line x1="89" x2="1160" y1="276.6" y2="276.6" stroke="#dfe1e4" stroke-width="1.3"/><text x="81" y="285.6" class="yl">5M</text><text x="81" y="369" class="yl">0M</text><polyline points="89.8,232.9 114.4,215.4 132.6,205.9 150.1,192.4 169.1,186.0 185.0,175.7 221.5,155.1 239.8,347.9 257.2,338.4 275.5,323.3 290.6,314.6 309.6,300.3 327.9,290.0 346.9,282.1 364.4,272.5 381.8,263.0 400.1,253.5 418.0,246.0 435.8,239.2 452.5,229.7 469.1,216.2 489.0,206.7 505.6,193.2 523.1,184.4 542.9,174.9 561.2,163.0 578.7,357.5 596.1,341.6 612.8,332.0 631.8,319.4 649.3,309.8 667.5,298.7 685.0,290.0 702.5,277.3 720.7,267.0 738.2,262.2 755.6,253.5 773.1,244.0 793.3,236.0 798.8,213.8 816.3,259.8 833.7,245.6 852.8,251.1 868.7,246.3 886.9,237.6 906.0,244.8 940.9,233.7 959.1,356.7 976.6,340.0 994.0,326.5 1048.0,294.0 1066.3,278.9 1100.4,253.5 1154.4,223.3" fill="none" stroke="#4a8fdd" stroke-width="4.4" stroke-linejoin="round" stroke-linecap="round"/><line x1="89" x2="1160" y1="360" y2="360" stroke="#6e737b" stroke-width="2.6"/><line x1="157.0" x2="157.0" y1="360" y2="371" stroke="#6e737b" stroke-width="2"/><text x="157.0" y="398" class="xl">16:30</text><line x1="424.5" x2="424.5" y1="360" y2="371" stroke="#6e737b" stroke-width="2"/><text x="424.5" y="398" class="xl">16:45</text><line x1="691.9" x2="691.9" y1="360" y2="371" stroke="#6e737b" stroke-width="2"/><text x="691.9" y="398" class="xl">17:00</text><line x1="959.4" x2="959.4" y1="360" y2="371" stroke="#6e737b" stroke-width="2"/><text x="959.4" y="398" class="xl">17:15</text></svg></div><div class="w" style="left:1380px;top:1698px"><div class="wt" style="left:12.2px;letter-spacing:0.5px">Number of Classes Loaded (top 10)</div><div class="ws"></div><svg class="cs" width="1175" height="425" viewBox="0 0 1175 425"><line x1="89" x2="1160" y1="166.4" y2="166.4" stroke="#dfe1e4" stroke-width="1.3"/><text x="81" y="175.4" class="yl">4k</text><line x1="89" x2="1160" y1="263.2" y2="263.2" stroke="#dfe1e4" stroke-width="1.3"/><text x="81" y="272.2" class="yl">2k</text><text x="81" y="369" class="yl">0k</text><path d="M798.5,360 L816.3000000000002,147.9000000000001 L834.1999999999998,360 Z M852,360 L869.8000000000002,218.70000000000005 L887.6999999999998,360 Z" fill="#9fc6f6"/><line x1="89" x2="1160" y1="360" y2="360" stroke="#6e737b" stroke-width="2.6"/><line x1="157.0" x2="157.0" y1="360" y2="371" stroke="#6e737b" stroke-width="2"/><text x="157.0" y="398" class="xl">16:30</text><line x1="424.5" x2="424.5" y1="360" y2="371" stroke="#6e737b" stroke-width="2"/><text x="424.5" y="398" class="xl">16:45</text><line x1="691.9" x2="691.9" y1="360" y2="371" stroke="#6e737b" stroke-width="2"/><text x="691.9" y="398" class="xl">17:00</text><line x1="959.4" x2="959.4" y1="360" y2="371" stroke="#6e737b" stroke-width="2"/><text x="959.4" y="398" class="xl">17:15</text></svg></div><div class="w" style="left:2595px;top:1698px"><div class="wt" style="left:12.7px;letter-spacing:0.59px">Thread Count (top 10)</div><div class="ws"></div><svg class="cs" width="1175" height="425" viewBox="0 0 1175 425"><line x1="89" x2="1160" y1="93.6" y2="93.6" stroke="#dfe1e4" stroke-width="1.3"/><text x="81" y="102.6" class="yl">13</text><line x1="89" x2="1160" y1="182.5" y2="182.5" stroke="#dfe1e4" stroke-width="1.3"/><text x="81" y="191.5" class="yl">12</text><line x1="89" x2="1160" y1="271.2" y2="271.2" stroke="#dfe1e4" stroke-width="1.3"/><text x="81" y="280.2" class="yl">11</text><text x="81" y="369" class="yl">10</text><polyline points="91.0,271.2 560.0,271.2 579.0,316.1 596.2,271.2 792.9,271.2 798.9,137.5 816.2,204.8 834.3,160.0 852.3,159.6 870.4,195.3 887.6,181.5 904.9,226.4 941.1,226.4 958.3,315.2 976.5,272.1 994.6,181.5 1011.8,271.2 1155.9,271.2" fill="none" stroke="#4a8fdd" stroke-width="4.4" stroke-linejoin="round" stroke-linecap="round"/><line x1="89" x2="1160" y1="361" y2="361" stroke="#ccd0d4" stroke-width="1.5"/><line x1="157.0" x2="157.0" y1="361" y2="372" stroke="#6f737c" stroke-width="2.2"/><text x="157.0" y="398" class="xl">16:30</text><line x1="424.5" x2="424.5" y1="361" y2="372" stroke="#6f737c" stroke-width="2.2"/><text x="424.5" y="398" class="xl">16:45</text><line x1="691.9" x2="691.9" y1="361" y2="372" stroke="#6f737c" stroke-width="2.2"/><text x="691.9" y="398" class="xl">17:00</text><line x1="959.4" x2="959.4" y1="361" y2="372" stroke="#6f737c" stroke-width="2.2"/><text x="959.4" y="398" class="xl">17:15</text></svg></div><div class="abs" style="left:1868px;top:2110px;width:100px;height:50px;border-radius:13px 13px 0 0;background:rgba(170,170,170,0.75)"></div>
<svg class="abs" style="left:1868px;top:2110px" width="100" height="50" viewBox="0 0 100 50"><g fill="#fff"><rect x="33" y="8" width="6" height="5.5"/><rect x="44" y="8.7" width="22.5" height="3.6"/><rect x="33" y="19.3" width="6" height="5.4"/><rect x="44" y="20" width="22.5" height="3.6"/><rect x="33" y="30.8" width="6" height="5.5"/><rect x="44" y="31.5" width="22.5" height="3.6"/></g></svg></body></html>
